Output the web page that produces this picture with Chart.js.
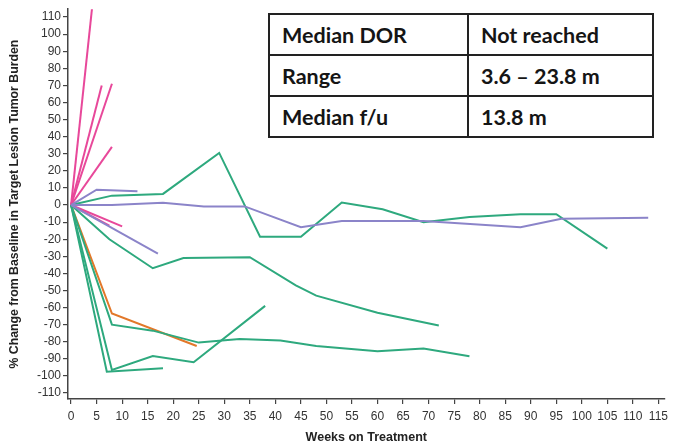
<!DOCTYPE html>
<html>
<head>
<meta charset="utf-8">
<script src="https://cdn.jsdelivr.net/npm/chart.js"></script>
<style>
  html, body { margin: 0; padding: 0; background: #fff; }
  #wrap { position: relative; width: 673px; height: 445px; }
  #stats {
    position: absolute; left: 268px; top: 13px;
    border-collapse: collapse; background: #fff;
    font-family: Lato, "Open Sans", sans-serif; font-weight: 700;
    font-size: 21.5px; color: #151515;
  }
  #stats td { border: 2px solid #222; height: 39px; padding: 0 0 0 12px; white-space: nowrap; }
  #stats td.c1 { width: 185px; }
  #stats td.c2 { width: 171px; }
</style>
</head>
<body>
<div id="wrap">
  <canvas id="waterfall" width="673" height="445"></canvas>
  <table id="stats">
    <tr><td class="c1">Median DOR</td><td class="c2">Not reached</td></tr>
    <tr><td class="c1">Range</td><td class="c2">3.6 – 23.8 m</td></tr>
    <tr><td class="c1">Median f/u</td><td class="c2">13.8 m</td></tr>
  </table>
</div>
<script>
// tick labels
const xTickValues = [0,5,10,15,20,25,30,35,40,45,50,55,60,65,70,75,80,85,90,95,100,105,110,115];
const yTickValues = [110,100,90,80,70,60,50,40,30,20,10,0,-10,-20,-30,-40,-50,-60,-70,-80,-90,-100,-110];

// [week, % change] per patient
// progressive disease (magenta)
const pd1 = [[0,0],[4.1,115]];
const pd2 = [[0,0],[6,70]];
const pd3 = [[0,0],[8,71]];
const pd4 = [[0,0],[8,34]];
const pd5 = [[0,0],[10,-12.5]];
const pd6 = [[0,0],[7.5,-12]];
// stable disease (purple)
const sd1 = [[0,0],[5,9],[13,8]];
const sd2 = [[0,0],[8,0],[18,1.3],[26,-0.8],[34,-0.8],[45,-13],[53,-9.4],[69,-9.4],[88,-13],[96,-8],[113,-7.5]];
const sd3 = [[0,0],[17,-28.5]];
// orange
const or1 = [[0,0],[8,-63.5],[24.6,-82.5]];
// responders (green)
const pr1 = [[0,0],[8,5.5],[18,6.5],[29,30.5],[37,-18.5],[45,-18.5],[53,1.5],[61,-2.5],[69,-10],[78,-7],[88,-5.4],[95,-5.4],[105,-25.5]];
const pr2 = [[0,0],[7.5,-20],[16,-37],[22,-31],[35,-30.5],[44,-47],[48,-53],[60,-63],[72,-70.5]];
const pr3 = [[0,0],[8,-70],[16,-73.5],[25,-80.5],[33,-78.4],[41,-79.3],[48,-82.5],[60,-85.5],[69,-84],[78,-88.5]];
const pr4 = [[0,0],[7,-97.5],[18,-95.5]];
const pr5 = [[0,0],[8,-96.5],[16,-88.4],[24,-92],[38,-59]];

const MAGENTA = '#e8489a';
const PURPLE = '#8b84c9';
const ORANGE = '#e2782a';
const GREEN = '#2ea97e';

function series(pts, color) {
    return {
        data: pts.map(p => ({ x: p[0], y: p[1] })),
        borderColor: color,
        borderWidth: 2,
        pointRadius: 0,
        tension: 0,
        fill: false
    };
}

const datasets = [
    series(sd2, PURPLE), series(sd1, PURPLE), series(sd3, PURPLE),
    series(pr1, GREEN), series(pr2, GREEN), series(pr3, GREEN), series(pr4, GREEN), series(pr5, GREEN),
    series(or1, ORANGE),
    series(pd1, MAGENTA), series(pd2, MAGENTA), series(pd3, MAGENTA), series(pd4, MAGENTA),
    series(pd5, MAGENTA), series(pd6, MAGENTA)
];

const axisColor = '#444';
const tickFont = { family: 'Liberation Sans, Arial, sans-serif', size: 12 };

new Chart(document.getElementById('waterfall').getContext('2d'), {
    type: 'line',
    data: { datasets: datasets },
    options: {
        responsive: false,
        animation: false,
        layout: { padding: { top: 5, right: 1, left: 0, bottom: 0 } },
        plugins: { legend: { display: false }, tooltip: { enabled: false } },
        scales: {
            x: {
                type: 'linear',
                min: -0.6,
                max: 116.2,
                afterBuildTicks: scale => { scale.ticks = xTickValues.map(v => ({ value: v })); },
                afterFit: scale => { scale.height = 46; },
                grid: { drawOnChartArea: false, drawTicks: true, tickLength: 5, color: axisColor, lineWidth: 1.2 },
                border: { display: true, color: axisColor, width: 1.5 },
                ticks: { color: '#333', font: tickFont, padding: 5, maxRotation: 0, autoSkip: false, callback: v => String(v) },
                title: { display: true, text: 'Weeks on Treatment', color: '#222',
                         font: { family: 'Liberation Sans, Arial, sans-serif', size: 12.5, weight: 'bold' },
                         padding: { top: 0, bottom: 0 } }
            },
            y: {
                type: 'linear',
                min: -113.5,
                max: 114.6,
                afterBuildTicks: scale => { scale.ticks = yTickValues.map(v => ({ value: v })); },
                afterFit: scale => { scale.width = 68; },
                grid: { drawOnChartArea: false, drawTicks: true, tickLength: 5, color: axisColor, lineWidth: 1.2 },
                border: { display: true, color: axisColor, width: 1.5 },
                ticks: { color: '#333', font: tickFont, padding: 2, autoSkip: false, callback: v => String(v) },
                title: { display: true, text: '% Change from Baseline in Target Lesion Tumor Burden', color: '#222',
                         font: { family: 'Liberation Sans, Arial, sans-serif', size: 12.3, weight: 'bold' },
                         padding: { top: 7, bottom: 0 } }
            }
        }
    }
});
</script>
</body>
</html>
